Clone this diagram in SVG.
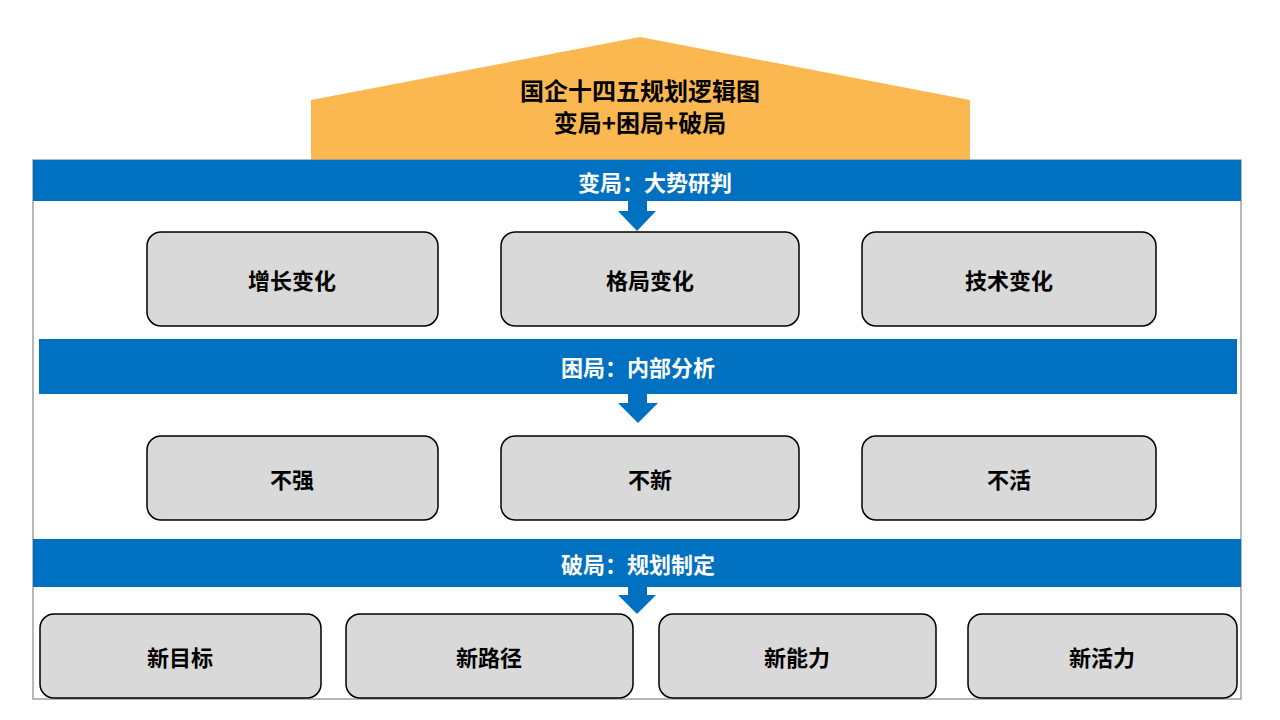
<svg xmlns="http://www.w3.org/2000/svg" width="1280" height="720" viewBox="0 0 1280 720">
<style>
text{font-family:"Noto Sans CJK SC","Liberation Sans",sans-serif;font-weight:bold;text-anchor:middle;dominant-baseline:central}
.box{fill:#d9d9d9;stroke:#000;stroke-width:1.5}
.bar{fill:#0070c0}
.bt{fill:#fff;font-size:22px}
.nt{fill:#000;font-size:22px}
.arr{fill:#0070c0}
</style>
<rect width="1280" height="720" fill="#fff"/>
<g id="roof">
<polygon points="311,100 640,37 970,100 970,160 311,160" fill="#fbb851"/>
<text x="640" y="89" font-size="24" fill="#000">国企十四五规划逻辑图</text>
<text x="640" y="121" font-size="24" fill="#000">变局+困局+破局</text>
</g>
<g id="frame"><rect x="33" y="160" width="1208" height="539" fill="none" stroke="#888" stroke-width="1.2"/></g>
<g id="bar1"><rect class="bar" x="33" y="160" width="1208" height="41"/><text class="bt" x="655" y="181">变局：大势研判</text></g>
<g id="bar2"><rect class="bar" x="39" y="339" width="1198" height="55"/><text class="bt" x="638" y="366">困局：内部分析</text></g>
<g id="bar3"><rect class="bar" x="33" y="539" width="1208" height="48"/><text class="bt" x="638" y="563">破局：规划制定</text></g>
<g id="connectors">
<polygon class="arr" points="628,201 647,201 647,211 656,211 637,231 618,211 628,211"/>
<polygon class="arr" points="628,394 647,394 647,403 658,403 638,423 618,403 628,403"/>
<polygon class="arr" points="628,587 647,587 647,595 656,595 637,614 618,595 628,595"/>
</g>
<g id="n1"><rect class="box" x="147" y="232" width="291" height="94" rx="14"/><text class="nt" x="292" y="279">增长变化</text></g>
<g id="n2"><rect class="box" x="501" y="232" width="298" height="94" rx="14"/><text class="nt" x="650" y="279">格局变化</text></g>
<g id="n3"><rect class="box" x="862" y="232" width="294" height="94" rx="14"/><text class="nt" x="1009" y="279">技术变化</text></g>
<g id="n4"><rect class="box" x="147" y="436" width="291" height="84" rx="14"/><text class="nt" x="292" y="478">不强</text></g>
<g id="n5"><rect class="box" x="501" y="436" width="298" height="84" rx="14"/><text class="nt" x="650" y="478">不新</text></g>
<g id="n6"><rect class="box" x="862" y="436" width="294" height="84" rx="14"/><text class="nt" x="1009" y="478">不活</text></g>
<g id="n7"><rect class="box" x="40" y="614" width="281" height="84" rx="14"/><text class="nt" x="180" y="656">新目标</text></g>
<g id="n8"><rect class="box" x="346" y="614" width="287" height="84" rx="14"/><text class="nt" x="489" y="656">新路径</text></g>
<g id="n9"><rect class="box" x="659" y="614" width="277" height="84" rx="14"/><text class="nt" x="797" y="656">新能力</text></g>
<g id="n10"><rect class="box" x="968" y="614" width="269" height="84" rx="14"/><text class="nt" x="1102" y="656">新活力</text></g>
</svg>
